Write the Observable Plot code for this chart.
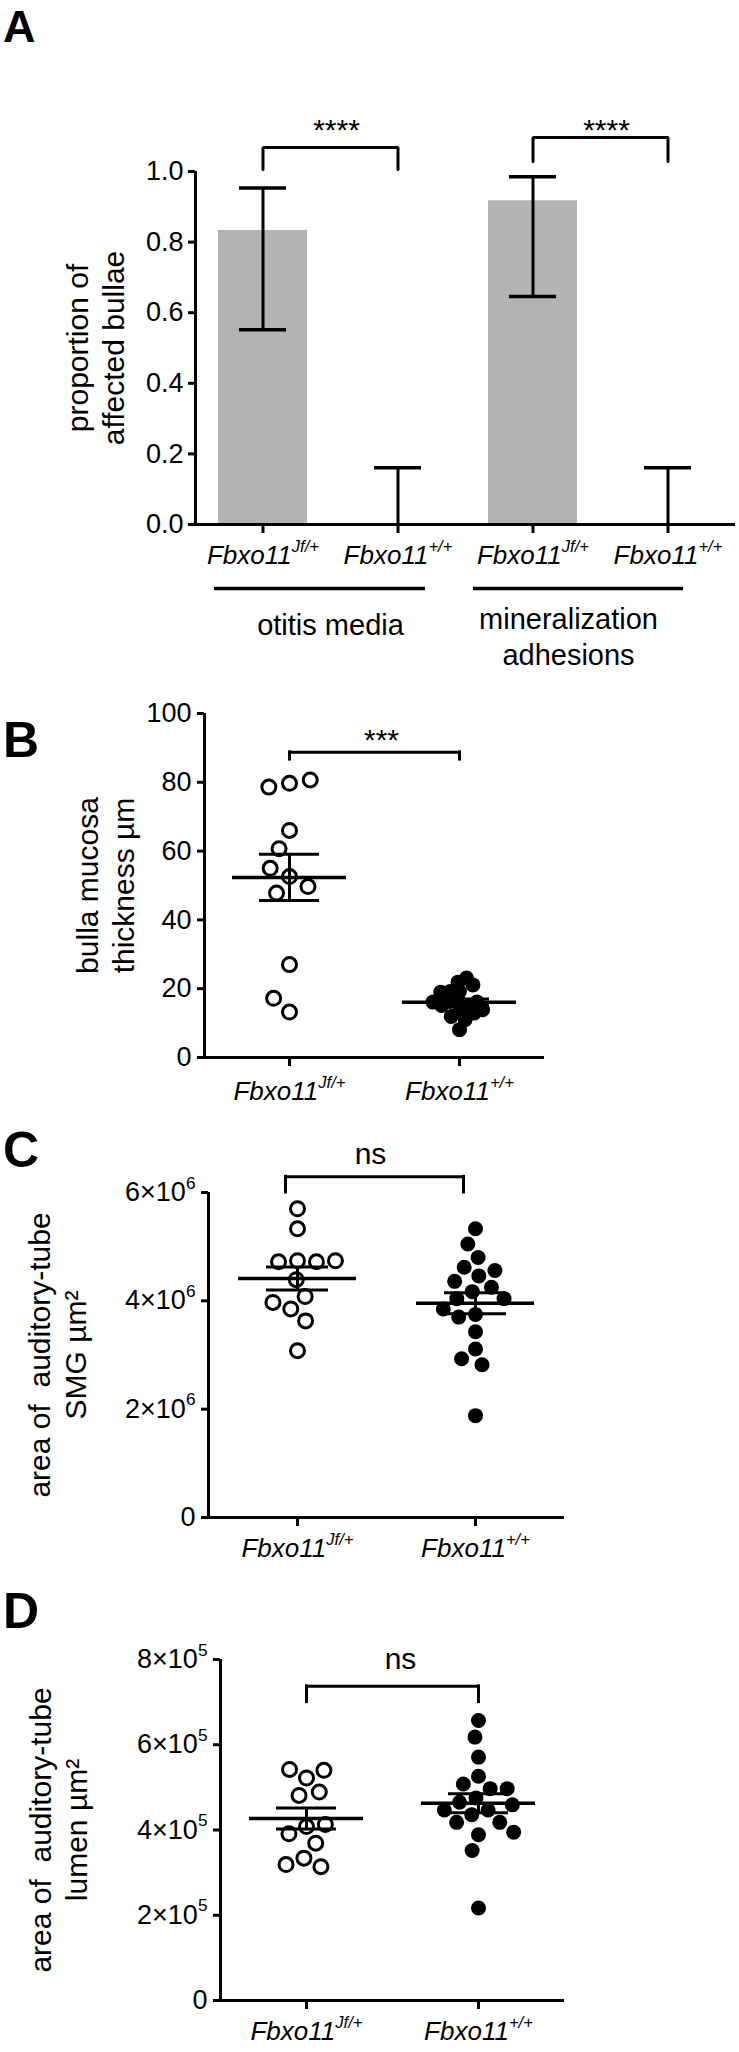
<!DOCTYPE html>
<html>
<head>
<meta charset="utf-8">
<script src="https://cdn.jsdelivr.net/npm/d3@7"></script>
<script src="https://cdn.jsdelivr.net/npm/@observablehq/plot@0.6"></script>
<style>
  body { margin: 0; background: #fff; }
  #wrap { position: relative; width: 739px; height: 2052px; overflow: hidden; font-family: "Liberation Sans", Arial, Helvetica, sans-serif; color: #000; }
  .letter { position: absolute; left: 3px; font-weight: bold; line-height: 1.2; }
</style>
</head>
<body>
<div id="wrap"></div>
<script>
// ---------- Panel A data ----------
const barKeys = ["om-jf", "om-wt", "ma-jf", "ma-wt"];
const barGenotype = ["Fbxo11^Jf/+", "Fbxo11^+/+", "Fbxo11^Jf/+", "Fbxo11^+/+"];
const barProportion = [0.833, 0, 0.917, 0];
const barLower = [0.552, 0, 0.646, 0];
const barUpper = [0.953, 0.161, 0.985, 0.161];
const barTicks = [0, 0.2, 0.4, 0.6, 0.8, 1.0];
const barGroupNames = ["otitis media", "mineralization\nadhesions"];
const barGroupMembers = [["om-jf", "om-wt"], ["ma-jf", "ma-wt"]];
const barSignificance = ["****", "****"];
const barBracketTop = [1.068, 1.096];
const barBracketFoot = [1.006, 1.028];
const barStarsY = [1.117, 1.117];

// ---------- Panels B-D data ----------
const genotypes = ["Fbxo11^Jf/+", "Fbxo11^+/+"];
const thicknessJf = [79.7, 78.6, 80.7, 66.0, 60.7, 52.6, 55.0, 47.8, 49.7, 27.0, 13.2, 17.2];
const thicknessWt = [19.2, 19.2, 21.9, 23.1, 21.1, 19.0, 16.1, 16.3, 15.1, 15.1, 16.1, 16.1, 13.2, 11.9, 11.0, 12.9, 13.9, 8.1];
const thicknessTicks = [0, 20, 40, 60, 80, 100];
const smgJf = [5.70e6, 5.33e6, 4.74e6, 4.72e6, 4.72e6, 4.74e6, 4.39e6, 4.08e6, 3.85e6, 3.97e6, 3.63e6, 3.08e6];
const smgWt = [5.33e6, 5.05e6, 4.80e6, 4.62e6, 4.46e6, 4.56e6, 4.36e6, 4.25e6, 4.17e6, 4.04e6, 4.04e6, 3.75e6, 3.70e6, 3.85e6, 3.43e6, 3.11e6, 2.93e6, 2.82e6, 1.88e6];
const smgTicks = [0, 2e6, 4e6, 6e6];
const lumenJf = [5.22e5, 5.42e5, 5.40e5, 4.81e5, 4.89e5, 4.08e5, 3.91e5, 4.13e5, 3.69e5, 3.34e5, 3.14e5, 3.19e5];
const lumenWt = [6.57e5, 6.18e5, 5.71e5, 5.26e5, 5.08e5, 4.97e5, 4.97e5, 4.75e5, 4.65e5, 4.47e5, 4.59e5, 4.36e5, 4.47e5, 4.18e5, 4.18e5, 3.89e5, 3.95e5, 3.52e5, 2.17e5];
const lumenTicks = [0, 2e5, 4e5, 6e5, 8e5];

// ---------- helpers ----------
const W = 739;
const FONT = "'Liberation Sans', Arial, Helvetica, sans-serif";
const wrap = document.getElementById("wrap");
const SVGNS = "http://www.w3.org/2000/svg";

function supify(svg) {
  svg.querySelectorAll("text").forEach(t => {
    if (t.children.length) return;
    const s = t.textContent;
    const i = s.indexOf("^");
    if (i < 0) return;
    t.textContent = s.slice(0, i);
    const ts = document.createElementNS(SVGNS, "tspan");
    ts.setAttribute("font-size", "0.64em");
    ts.setAttribute("dy", "-0.72em");
    ts.textContent = s.slice(i + 1);
    t.appendChild(ts);
  });
}
function place(svg, top) {
  svg.style.position = "absolute";
  svg.style.left = "0px";
  svg.style.top = top + "px";
  svg.style.overflow = "visible";
  wrap.appendChild(svg);
  supify(svg);
}
// letter box with line-height 1.2: baseline sits at top + (0.1 + 0.905 - 0.0585) em ≈ top + 0.9465 em
function letter(ch, size, baseline) {
  const d = document.createElement("div");
  d.className = "letter";
  d.style.fontSize = size + "px";
  d.style.top = Math.max(0, baseline - 0.9465 * size) + "px";
  d.textContent = ch;
  wrap.appendChild(d);
}
const baseStyle = {fontFamily: FONT, fontSize: "27px", background: "transparent", overflow: "visible", color: "#000"};

// ---------- Panel A ----------
function panelA() {
  const ml = 195, mr = 4, mt = 171, mb = 156, h = 680;
  const step = (W - ml - mr) / barKeys.length;
  const bars = barKeys.map((k, i) => ({k, p: barProportion[i], lo: barLower[i], hi: barUpper[i]}));
  const groups = barGroupNames.map((name, i) => ({
    name, a: barGroupMembers[i][0], b: barGroupMembers[i][1],
    top: barBracketTop[i], foot: barBracketFoot[i], sig: barSignificance[i], sy: barStarsY[i]
  }));
  const bracketPts = groups.flatMap((g, i) => [
    {i, x: g.a, y: g.foot}, {i, x: g.a, y: g.top}, {i, x: g.b, y: g.top}, {i, x: g.b, y: g.foot}
  ]);
  const groupTextDy = [85, 79];
  const groupTextDx = [step / 2 + 0, step / 2 - 32];
  const groupLineInsets = [[19, 40], [8, 52]];
  return Plot.plot({
    width: W, height: h, marginLeft: ml, marginRight: mr, marginTop: mt, marginBottom: mb,
    style: baseStyle,
    x: {type: "band", domain: barKeys, padding: 0, axis: null},
    y: {domain: [0, 1], axis: null},
    marks: [
      Plot.barY(bars, {x: "k", y: "p", fill: "#b3b3b3", insetLeft: 23, insetRight: 23}),
      Plot.ruleX(bars, {x: "k", y1: "lo", y2: "hi", stroke: "#000", strokeWidth: 3}),
      Plot.tickY(bars, {x: "k", y: "hi", stroke: "#000", strokeWidth: 3.5, insetLeft: 44, insetRight: 44}),
      Plot.tickY(bars.filter(d => d.lo > 0), {x: "k", y: "lo", stroke: "#000", strokeWidth: 3.5, insetLeft: 44, insetRight: 44}),
      Plot.ruleY([0], {stroke: "#000", strokeWidth: 3}),
      Plot.ruleX([barKeys[0]], {x: d => d, y1: () => 0, y2: () => 1, dx: -step / 2, stroke: "#000", strokeWidth: 3}),
      Plot.axisY({ticks: barTicks, tickFormat: d3.format(".1f"), tickSize: 7, tickPadding: 5, stroke: "#000", strokeWidth: 3, fontSize: 27, label: null}),
      Plot.axisX({tickSize: 9, tickPadding: 12, stroke: "#000", strokeWidth: 3, fontSize: 26, fontStyle: "italic", label: null,
        tickFormat: d => barGenotype[barKeys.indexOf(d)]}),
      Plot.line(bracketPts, {x: "x", y: "y", z: "i", stroke: "#000", strokeWidth: 3, strokeLinejoin: "miter"}),
      Plot.text(groups, {x: "a", y: "sy", text: "sig", dx: step / 2 + 6, fontSize: 30}),
      ...groups.map((g, i) => Plot.ruleY([g], {x1: "a", x2: "b", y: () => 0, dy: 64, stroke: "#000", strokeWidth: 3.5,
        insetLeft: groupLineInsets[i][0], insetRight: groupLineInsets[i][1]})),
      ...groups.map((g, i) => Plot.text([g], {x: "a", y: () => 0, text: "name", dy: groupTextDy[i], dx: groupTextDx[i],
        fontSize: 29, lineAnchor: "top", lineHeight: 1.25})),
      Plot.text(["proportion of\naffected bullae"], {text: d => d, frameAnchor: "left", textAnchor: "middle", dx: -101, rotate: -90, fontSize: 30, lineHeight: 1.2})
    ]
  });
}

// ---------- Panels B-D ----------
function dotPanel(cfg) {
  const {height, ml, mr, mt, mb, jf, wt, yDomain, ticks, tickFormat, label, labelDx, bracket, meanInset, semInset, fxPadding, openDodge, filledDodge} = cfg;
  const bw = (W - ml - mr) / 2;
  const open = jf.map(v => ({g: genotypes[0], v}));
  const filled = wt.map(v => ({g: genotypes[1], v}));
  const stats = genotypes.map((g, i) => {
    const vs = i ? wt : jf;
    const m = d3.mean(vs), se = d3.deviation(vs) / Math.sqrt(vs.length);
    return {g, m, lo: m - se, hi: m + se};
  });
  const br = genotypes.map(g => ({g, top: bracket.top, foot: bracket.foot}));
  return Plot.plot({
    width: W, height, marginLeft: ml, marginRight: mr, marginTop: mt, marginBottom: mb,
    style: baseStyle,
    fx: {domain: genotypes, padding: 0, label: null},
    y: {domain: yDomain, axis: null, label: null},
    marks: [
      Plot.ruleY([yDomain[0]], {stroke: "#000", strokeWidth: 3}),
      Plot.ruleX([genotypes[0]], {x: null, fx: d => d, y1: () => yDomain[0], y2: () => yDomain[1], dx: -bw / 2, stroke: "#000", strokeWidth: 3}),
      Plot.axisY({ticks, tickFormat, tickSize: 7, tickPadding: 6, stroke: "#000", strokeWidth: 3, fontSize: 27, label: null}),
      Plot.axisFx({anchor: "bottom", tickSize: 9, tickPadding: fxPadding, stroke: "#000", strokeWidth: 3, fontSize: 26, fontStyle: "italic", label: null}),
      Plot.dot(open, Plot.dodgeX({anchor: "middle", ...openDodge}, {fx: "g", y: "v", r: 7, fill: "#fff", stroke: "#000", strokeWidth: 3})),
      Plot.dot(filled, Plot.dodgeX({anchor: "middle", ...filledDodge}, {fx: "g", y: "v", r: 7.5, fill: "#000", stroke: "none"})),
      Plot.ruleY(stats, {fx: "g", y: "m", stroke: "#000", strokeWidth: 3.5, insetLeft: meanInset, insetRight: meanInset}),
      Plot.ruleY(stats, {fx: "g", y: "lo", stroke: "#000", strokeWidth: 3, insetLeft: semInset, insetRight: semInset}),
      Plot.ruleY(stats, {fx: "g", y: "hi", stroke: "#000", strokeWidth: 3, insetLeft: semInset, insetRight: semInset}),
      Plot.ruleX(stats, {x: null, fx: "g", y1: "lo", y2: "hi", stroke: "#000", strokeWidth: 3}),
      Plot.ruleX(br, {x: null, fx: "g", y1: "foot", y2: "top", dx: bracket.dx, stroke: "#000", strokeWidth: 3, strokeLinecap: "square"}),
      Plot.ruleY(br.slice(0, 1), {fx: "g", y: "top", insetLeft: bw / 2, dx: bracket.dx, stroke: "#000", strokeWidth: 3}),
      Plot.ruleY(br.slice(1), {fx: "g", y: "top", insetRight: bw / 2, dx: bracket.dx, stroke: "#000", strokeWidth: 3}),
      Plot.text([bracket], {fx: () => genotypes[0], y: "textY", text: "text", frameAnchor: "right", textAnchor: "middle", dx: bracket.textDx, fontSize: 30}),
      Plot.text([label], {fx: () => genotypes[0], text: d => d, frameAnchor: "left", textAnchor: "middle", rotate: -90, dx: labelDx, fontSize: 30, lineHeight: 1.2})
    ]
  });
}

const sci = e => d => d === 0 ? "0" : `${d / Math.pow(10, e)}×10^${e}`;

place(panelA(), 0);

place(dotPanel({
  height: 440, ml: 204, mr: 195, mt: 33, mb: 63, fxPadding: 15,
  jf: thicknessJf, wt: thicknessWt, yDomain: [0, 100], ticks: thicknessTicks, tickFormat: d => String(d),
  label: "bulla mucosa\nthickness µm", labelDx: -100,
  bracket: {top: 88.7, foot: 86.6, text: "***", textY: 92.2, dx: 0, textDx: 7},
  meanInset: 28, semInset: 55,
  openDodge: {r: 8, padding: 5}, filledDodge: {r: 4.7, padding: 0}
}), 680);

place(dotPanel({
  height: 455, ml: 208, mr: 175, mt: 72, mb: 58, fxPadding: 12,
  jf: smgJf, wt: smgWt, yDomain: [0, 6e6], ticks: smgTicks, tickFormat: sci(6),
  label: "area of  auditory-tube\nSMG µm²", labelDx: -152,
  bracket: {top: 6.29e6, foot: 6.0e6, text: "ns", textY: 6.71e6, dx: -12, textDx: -16},
  meanInset: 30, semInset: 58,
  openDodge: {r: 8, padding: 3}, filledDodge: {r: 8, padding: 1}
}), 1120);

place(dotPanel({
  height: 477, ml: 220, mr: 175, mt: 84, mb: 52, fxPadding: 12,
  jf: lumenJf, wt: lumenWt, yDomain: [0, 8e5], ticks: lumenTicks, tickFormat: sci(5),
  label: "area of  auditory-tube\nlumen µm²", labelDx: -163,
  bracket: {top: 7.37e5, foot: 7.0e5, text: "ns", textY: 8.0e5, dx: 0, textDx: 8},
  meanInset: 29, semInset: 56,
  openDodge: {r: 8, padding: 3}, filledDodge: {r: 8, padding: 1}
}), 1575);

letter("A", 45, 43);
letter("B", 50, 757);
letter("C", 50, 1167);
letter("D", 50, 1628);
</script>
</body>
</html>
